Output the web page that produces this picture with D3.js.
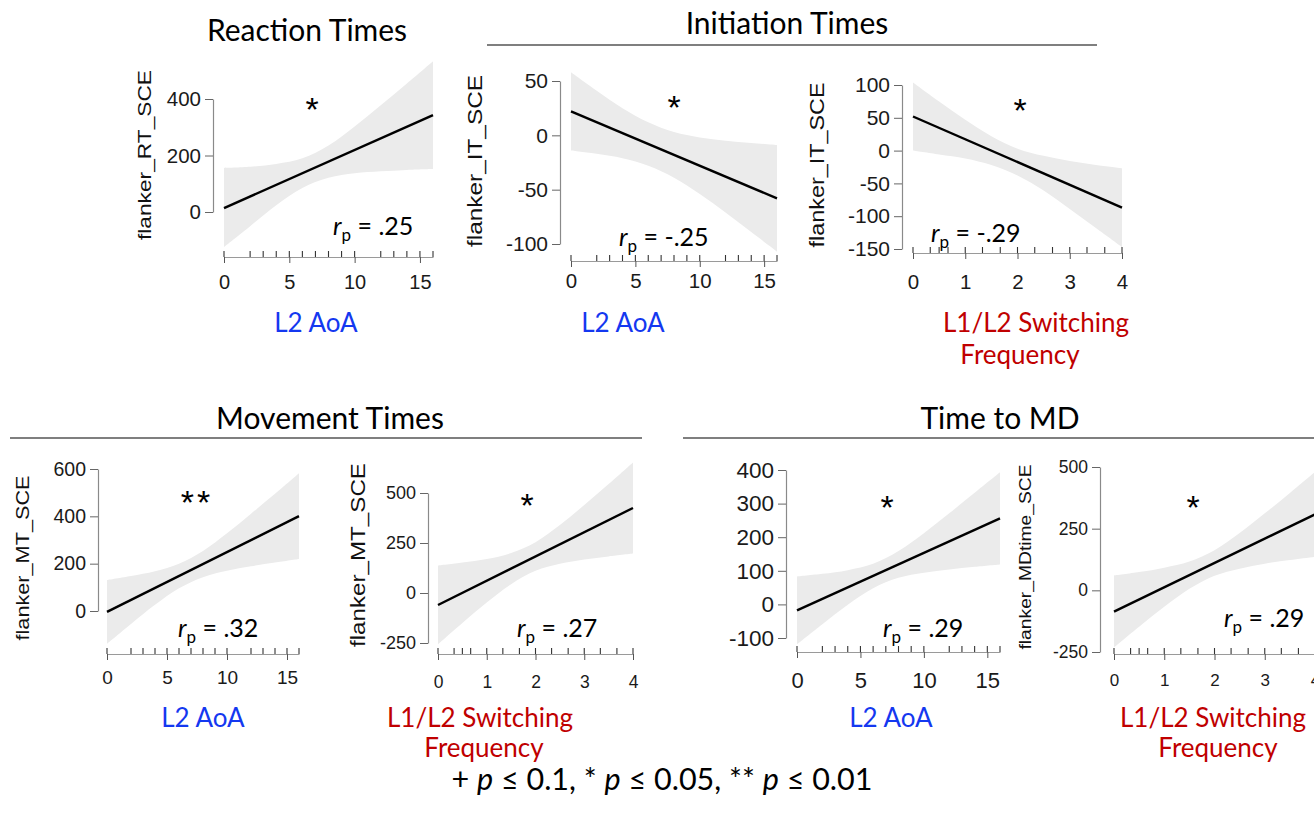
<!DOCTYPE html>
<html><head><meta charset="utf-8">
<script src="https://cdn.jsdelivr.net/npm/d3@7"></script>
<style>body{margin:0;background:#fff} svg{display:block}</style>
</head><body>
<svg id="chart" width="1314" height="822"></svg>
<script>
// ---------------- data ----------------
const aoaRug = [0,2,3,4,5,6,7,8,9,10,12,13,14,15,16];
const switchRug = [0,0.33,0.5,0.67,1,1.33,1.67,2,2.33,2.67,3,3.33,3.67,4];
const aoaBandX = [0,2,4,6,8,10,12,14,16];
const switchBandX = [0,0.5,1,1.5,2,2.5,3,3.5,4];
const aoaFitX = [0,16];
const switchFitX = [0,4];
const aoaTicks = [0,5,10,15];
const switchTicks = [0,1,2,3,4];

// Reaction times vs L2 AoA
const rtAoaYTicks = [0,200,400];
const rtAoaFit = [14,343];
const rtAoaUpper = [156,160,170,190,235,303,378,455,534];
const rtAoaLower = [-124,-50,24,85,121,137,144,149,152];
// Initiation times vs L2 AoA
const itAoaYTicks = [-100,-50,0,50];
const itAoaFit = [22,-58];
const itAoaUpper = [58,41,25,12,3,-2,-5,-7,-9];
const itAoaLower = [-14,-17,-21,-28,-39,-54,-71,-89,-107];
// Initiation times vs switching
const itSwYTicks = [-150,-100,-50,0,50,100];
const itSwFit = [52,-87];
const itSwUpper = [104,75,47,22,3,-8,-16,-22,-27];
const itSwLower = [0,-6,-12,-22,-38,-61,-89,-118,-147];
// Movement times vs L2 AoA
const mtAoaYTicks = [0,200,400,600];
const mtAoaFit = [-4,401];
const mtAoaUpper = [131,148,168,200,254,328,411,495,582];
const mtAoaLower = [-139,-55,26,96,143,170,189,205,220];
// Movement times vs switching
const mtSwYTicks = [-250,0,250,500];
const mtSwFit = [-60,425];
const mtSwUpper = [137,152,170,200,254,340,440,545,653];
const mtSwLower = [-257,-150,-48,44,111,146,168,183,197];
// Time to MD vs L2 AoA
const mdAoaYTicks = [-100,0,100,200,300,400];
const mdAoaFit = [-18,256];
const mdAoaUpper = [83,91,102,121,159,212,271,332,393];
const mdAoaLower = [-119,-59,-1,48,79,94,104,112,119];
// Time to MD vs switching
const mdSwYTicks = [-250,0,250,500];
const mdSwFit = [-86,308];
const mdSwUpper = [60,74,92,117,163,232,312,395,480];
const mdSwLower = [-232,-148,-67,6,59,88,108,123,136];

const yLabels = ["flanker_RT_SCE","flanker_IT_SCE","flanker_IT_SCE","flanker_MT_SCE","flanker_MT_SCE","flanker_MDtime_SCE","flanker_MDtime_SCE"];
const rpValues = [".25","-.25","-.29",".32",".27",".29",".29"];
const stars = ["*","*","*","**","*","*","*"];
const sectionTitles = ["Reaction Times","Initiation Times","Movement Times","Time to MD"];
const aoaTitle = ["L2 AoA"];
const switchTitle = ["L1/L2 Switching","Frequency"];

// ---------------- layout ----------------
const BLUE = "#1438f0", RED = "#c00000";
const panels = [
 {yT:rtAoaYTicks, yR:[212,99], bx:aoaBandX, up:rtAoaUpper, lo:rtAoaLower, fx:aoaFitX, fit:rtAoaFit, xd:[0,16], xr:[224,433], xt:aoaTicks, rug:aoaRug,
  yAx:213, xAy:257, tf:20.5, xly:282, yl:{cx:145, cy:155, len:170, fs:19}, star:{x:312,y:102}, rp:{x:333,y:235}, tt:aoaTitle, tc:BLUE, ttx:[316], tty:[332]},
 {yT:itAoaYTicks, yR:[244,81], bx:aoaBandX, up:itAoaUpper, lo:itAoaLower, fx:aoaFitX, fit:itAoaFit, xd:[0,16], xr:[571,777], xt:aoaTicks, rug:aoaRug,
  yAx:560, xAy:261, tf:21, xly:281, yl:{cx:476, cy:161, len:172, fs:20}, star:{x:674,y:100}, rp:{x:619,y:246}, tt:aoaTitle, tc:BLUE, ttx:[623], tty:[332]},
 {yT:itSwYTicks, yR:[249,85], bx:switchBandX, up:itSwUpper, lo:itSwLower, fx:switchFitX, fit:itSwFit, xd:[0,4], xr:[913,1122], xt:switchTicks, rug:switchRug,
  yAx:902, xAy:253, tf:21, xly:282, yl:{cx:818, cy:165, len:165, fs:20}, star:{x:1020,y:103}, rp:{x:931,y:242}, tt:switchTitle, tc:RED, ttx:[1036,1020], tty:[332,364]},
 {yT:mtAoaYTicks, yR:[611,469], bx:aoaBandX, up:mtAoaUpper, lo:mtAoaLower, fx:aoaFitX, fit:mtAoaFit, xd:[0,16], xr:[107,299], xt:aoaTicks, rug:aoaRug,
  yAx:98, xAy:654, tf:19.5, xly:677, yl:{cx:23, cy:558, len:165, fs:19}, star:{x:197,y:495}, rp:{x:178,y:637}, tt:aoaTitle, tc:BLUE, ttx:[203], tty:[727]},
 {yT:mtSwYTicks, yR:[643,493], bx:switchBandX, up:mtSwUpper, lo:mtSwLower, fx:switchFitX, fit:mtSwFit, xd:[0,4], xr:[438,633], xt:switchTicks, rug:switchRug,
  yAx:428, xAy:654, tf:18, xly:682, yl:{cx:359, cy:555, len:184, fs:20}, star:{x:527,y:498}, rp:{x:517,y:637}, tt:switchTitle, tc:RED, ttx:[480,484], tty:[727,757]},
 {yT:mdAoaYTicks, yR:[638,470], bx:aoaBandX, up:mdAoaUpper, lo:mdAoaLower, fx:aoaFitX, fit:mdAoaFit, xd:[0,16], xr:[797,1000], xt:aoaTicks, rug:aoaRug,
  yAx:786, xAy:652, tf:22.5, xly:680, yl:{cx:695, start:703, len:268, fs:22, clipTop:455}, star:{x:887,y:500}, rp:{x:883,y:637}, tt:aoaTitle, tc:BLUE, ttx:[891], tty:[727]},
 {yT:mdSwYTicks, yR:[652,467], bx:switchBandX, up:mdSwUpper, lo:mdSwLower, fx:switchFitX, fit:mdSwFit, xd:[0,4], xr:[1114,1315], xt:switchTicks, rug:switchRug,
  yAx:1100, xAy:654, tf:17.5, xly:680, yl:{cx:1026, cy:557, len:185, fs:17}, star:{x:1193,y:500}, rp:{x:1224,y:627}, tt:switchTitle, tc:RED, ttx:[1213,1218], tty:[727,757]}
];

const svg = d3.select("#chart");
const defs = svg.append("defs");
const AX = "Liberation Sans, Arial, Helvetica, sans-serif";
const ANN = "Lato, 'Open Sans', sans-serif";

panels.forEach((p,i) => {
  const g = svg.append("g");
  const x = d3.scaleLinear().domain(p.xd).range(p.xr);
  const y = d3.scaleLinear().domain(d3.extent(p.yT)).range(p.yR);

  const band = p.bx.map((b,j)=>({x:b, lo:p.lo[j], hi:p.up[j]}));
  g.append("path").datum(band)
    .attr("d", d3.area().x(d=>x(d.x)).y0(d=>y(d.lo)).y1(d=>y(d.hi)).curve(d3.curveCatmullRom))
    .attr("fill","#ebebeb");
  g.append("path").datum(p.fx.map((f,j)=>({x:f, y:p.fit[j]})))
    .attr("d", d3.line().x(d=>x(d.x)).y(d=>y(d.y)))
    .attr("fill","none").attr("stroke","#000").attr("stroke-width",2.4);

  // y axis
  const ya = g.append("g").attr("transform",`translate(${p.yAx},0)`)
    .call(d3.axisLeft(y).tickValues(p.yT).tickSize(8).tickSizeOuter(0).tickPadding(4).tickFormat(d3.format("d")));
  ya.select(".domain").attr("stroke","#8a8a8a").attr("stroke-width",1.2);
  ya.selectAll(".tick line").attr("stroke","#666");
  ya.selectAll("text").attr("font-family",AX).attr("font-size",p.tf).attr("fill","#1a1a1a").text(d=>String(d).replace("−","-"));

  // x axis
  const xa = g.append("g").attr("transform",`translate(0,${p.xAy})`)
    .call(d3.axisBottom(x).tickValues(p.xt).tickSize(6).tickSizeOuter(0).tickFormat(d3.format("d")));
  xa.select(".domain").attr("stroke","#9a9a9a").attr("stroke-width",1.2);
  xa.selectAll(".tick line").attr("stroke","#555");
  xa.selectAll("text").attr("font-family",AX).attr("font-size",p.tf-0.5).attr("fill","#1a1a1a")
    .attr("y", p.xly - p.xAy).attr("dy","0.36em");
  // rug
  g.selectAll(".rug").data(p.rug).join("line").attr("class","rug")
    .attr("x1",d=>x(d)).attr("x2",d=>x(d)).attr("y1",p.xAy-6).attr("y2",p.xAy)
    .attr("stroke","#333").attr("stroke-width",1.1);

  // y label
  if (p.yl.clipTop !== undefined) {
    defs.append("clipPath").attr("id","clip"+i).append("rect")
      .attr("x",p.yl.cx-30).attr("y",p.yl.clipTop).attr("width",60).attr("height",400);
    g.append("text").attr("clip-path",`url(#clip${i})`)
      .attr("transform",`translate(${p.yl.cx},${p.yl.start}) rotate(-90)`)
      .attr("text-anchor","start").attr("dy","0.3em")
      .attr("font-family",AX).attr("font-size",p.yl.fs).attr("fill","#111")
      .attr("textLength",p.yl.len).attr("lengthAdjust","spacingAndGlyphs")
      .text(yLabels[i]);
  } else {
    g.append("text")
      .attr("transform",`translate(${p.yl.cx},${p.yl.cy}) rotate(-90)`)
      .attr("text-anchor","middle").attr("dy","0.3em")
      .attr("font-family",AX).attr("font-size",p.yl.fs).attr("fill","#111")
      .attr("textLength",p.yl.len).attr("lengthAdjust","spacingAndGlyphs")
      .text(yLabels[i]);
  }

  // star
  g.append("text").attr("x",p.star.x).attr("y",p.star.y+19).attr("text-anchor","middle")
    .attr("font-family",AX).attr("font-size",34).attr("fill","#000")
    .attr("letter-spacing", stars[i].length>1 ? 3 : 0).text(stars[i]);

  // r_p
  const rt = g.append("text").attr("x",p.rp.x).attr("y",p.rp.y)
    .attr("font-family",ANN).attr("font-size",25).attr("fill","#000");
  rt.append("tspan").attr("font-style","italic").text("r");
  rt.append("tspan").attr("font-size",17).attr("dy",6).text("p");
  rt.append("tspan").attr("dy",-6).text(" = " + rpValues[i]);

  // axis title
  p.tt.forEach((t,k)=>{
    g.append("text").attr("x",p.ttx[k]).attr("y",p.tty[k]).attr("text-anchor","middle")
      .attr("font-family",ANN).attr("font-size",26).attr("fill",p.tc).text(t);
  });
});

// section titles
const titlePos = [{x:307,y:41},{x:787,y:34},{x:330,y:429},{x:1000,y:429}];
sectionTitles.forEach((t,k)=>{
  svg.append("text").attr("x",titlePos[k].x).attr("y",titlePos[k].y).attr("text-anchor","middle")
    .attr("font-family",ANN).attr("font-size",30).attr("fill","#000").text(t);
});
const rules = [{x1:487,x2:1097,y:45},{x1:10,x2:642,y:438},{x1:683,x2:1314,y:438}];
rules.forEach(r=>svg.append("line").attr("x1",r.x1).attr("x2",r.x2).attr("y1",r.y).attr("y2",r.y)
  .attr("stroke","#555").attr("stroke-width",1.5));

// footer
const ft = svg.append("text").attr("x",662).attr("y",790).attr("text-anchor","middle")
  .attr("font-family",ANN).attr("font-size",30.5).attr("fill","#000");
[["+ ",false],["p",true],[" ≤ 0.1, * ",false],["p",true],[" ≤ 0.05, ** ",false],["p",true],[" ≤ 0.01",false]]
  .forEach(([s,it])=>ft.append("tspan").attr("font-style",it?"italic":"normal").text(s));
</script>
</body></html>
